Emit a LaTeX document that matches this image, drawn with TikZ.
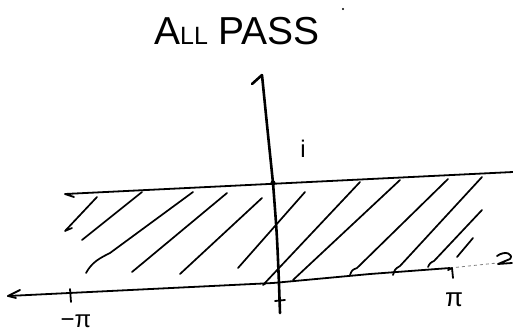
\documentclass[tikz,border=0pt]{standalone}
\usepackage{fontspec}
\setmainfont{Liberation Sans}
\begin{document}
\begin{tikzpicture}[x=1pt,y=-1pt,
  pen/.style={line width=1.8pt, line cap=round, line join=round},
  axispen/.style={line width=2.6pt, line cap=round, line join=round},
  hatch/.style={line width=1.7pt, line cap=round, line join=round},
  lbl/.style={inner sep=0pt, font=\fontsize{26}{26}\selectfont}]
\useasboundingbox (0,0) rectangle (513,331);
% title
\node[inner sep=0pt, font=\fontsize{39}{39}\selectfont] (title) at (237,31)
  {A{\fontsize{25}{25}\selectfont LL} PASS};
\fill (343,9) circle (1.2);
% vertical axis
\coordinate (vtop) at (262,75);
\coordinate (vup) at (273,183);
\coordinate (vlow) at (279,284);
\coordinate (vbot) at (280,313);
\draw[axispen] (vtop) .. controls (267,125) .. (vup) .. controls (277,235) .. (vlow) -- (vbot);
\draw[axispen] (vtop) -- (252,84);
\draw[pen] (275,301) -- (285,300);
\fill (vup) circle (2.6);
% upper line
\coordinate (uL) at (65,194);
\coordinate (uR) at (513,172);
\draw[pen] (74,197) -- (uL) -- (uR);
% lower line (real axis)
\coordinate (lL) at (8,296);
\coordinate (lM) at (273,283);
\coordinate (lR) at (450,268);
\coordinate (lE) at (497,263);
\draw[pen] (lL) -- (lM) -- (370,274) -- (lR);
\draw[pen] (20,290) -- (lL) -- (16,298);
\draw[line width=0.8pt, gray, dashed] (lR) -- (lE);
\draw[pen] (497,256) .. controls (505,250) and (514,254) .. (510,259) -- (498,264) -- (512,263);
% ticks
\draw[pen] (70,289) -- (71,302);
\draw[pen] (448,270) -- (452,268) -- (453,278);
% labels
\node[lbl, anchor=base, font=\fontsize{24}{24}\selectfont] (mpi) at (76,327) {−π};
\node[lbl] (pi) at (454,300) {π};
\node[inner sep=0pt, font=\fontsize{24}{24}\selectfont] (ilbl) at (303,149) {i};
% hatching
\draw[hatch] (72,228) -- (65,231) -- (97,197);
\draw[hatch] (82,240) -- (142,192);
\draw[hatch] (86,273) .. controls (92,262) and (100,258) .. (110,253) -- (193,192);
\draw[hatch] (132,272) -- (227,193);
\draw[hatch] (180,274) -- (262,198);
\draw[hatch] (238,268) -- (305,192);
\draw[hatch] (266,283) -- (263,285) -- (360,182);
\draw[hatch] (293,280) -- (400,180);
\draw[hatch] (350,275) .. controls (352,270) .. (357,268) -- (448,179);
\draw[hatch] (393,275) .. controls (395,269) .. (400,266) -- (482,177);
\draw[hatch] (428,267) .. controls (430,263) .. (434,261) -- (482,210);
\draw[hatch] (457,257) -- (473,238);
\end{tikzpicture}
\end{document}
